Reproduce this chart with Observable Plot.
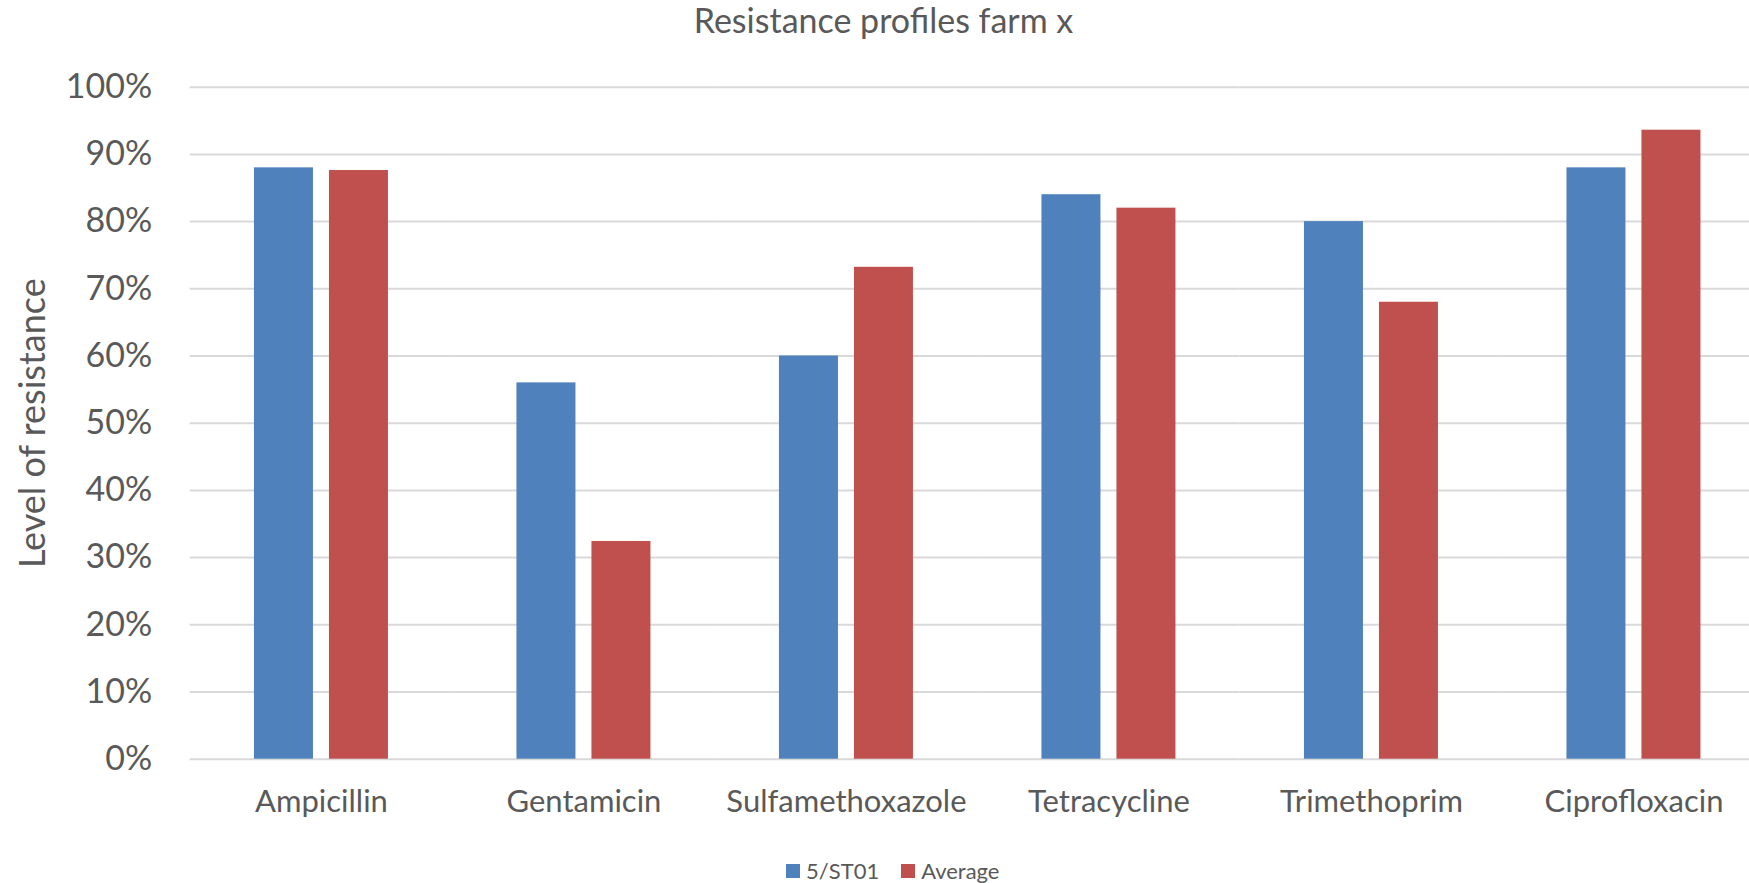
<!DOCTYPE html>
<html>
<head>
<meta charset="utf-8">
<script src="https://cdn.jsdelivr.net/npm/d3@7"></script>
<script src="https://cdn.jsdelivr.net/npm/@observablehq/plot@0.6"></script>
<style>
  html, body { margin: 0; padding: 0; background: #fff; overflow: hidden; }
  #wrap { width: 1749px; height: 883px; position: relative; overflow: hidden; font-family: Lato, sans-serif; color: #595959; }
  #title { height: 50px; line-height: 40px; font-size: 34px; text-align: center; width: 1749px; padding-left: 18px; box-sizing: border-box; white-space: nowrap; }
  #legend { position: absolute; left: 786px; top: 859px; height: 24px; line-height: 24px; display: flex; align-items: center; font-size: 22px; white-space: nowrap; }
  #legend .item { display: flex; align-items: center; margin-right: 22px; height: 24px; }
  #legend .sw { width: 14px; height: 14px; margin-right: 6px; }
</style>
</head>
<body>
<div id="wrap">
  <div id="title"></div>
  <div id="chart"></div>
  <div id="legend"></div>
</div>
<script>
const title = "Resistance profiles farm x";
const yLabel = "Level of resistance";
const categories = ["Ampicillin", "Gentamicin", "Sulfamethoxazole", "Tetracycline", "Trimethoprim", "Ciprofloxacin"];
const series = ["5/ST01", "Average"];
const valuesST01 = [88, 56, 60, 84, 80, 88];
const valuesAverage = [87.6, 32.4, 73.2, 82, 68, 93.6];
const yTicks = [0, 10, 20, 30, 40, 50, 60, 70, 80, 90, 100];
const colors = ["#4F81BD", "#C0504D"];

const rows = [];
categories.forEach((c, i) => {
  rows.push({category: c, series: series[0], value: valuesST01[i]});
  rows.push({category: c, series: series[1], value: valuesAverage[i]});
});

document.getElementById("title").textContent = title;

const chart = Plot.plot({
  width: 1749,
  height: 790,
  marginTop: 36.7,
  marginBottom: 81.3,
  marginLeft: 189.7,
  marginRight: 0,
  style: {fontFamily: "Lato, sans-serif", fontSize: "31px", color: "#595959", background: "#fff", overflow: "hidden"},
  facet: {data: rows, x: "category"},
  fx: {domain: categories, range: [189.7, 1764.7], padding: 0, round: false, axis: "bottom", tickSize: 0, tickPadding: 31, label: null},
  x: {domain: series, paddingInner: 0.2133, paddingOuter: 0.8567, round: false, axis: null},
  y: {domain: [0, 100], ticks: yTicks, tickFormat: d => d + "%", tickSize: 0, tickPadding: 38,
      label: yLabel, labelAnchor: "center", labelOffset: 171},
  color: {domain: series, range: colors},
  marks: [
    Plot.ruleY(yTicks, {stroke: "#d9d9d9", strokeWidth: 2}),
    Plot.barY(rows, {x: "series", y: "value", fill: "series"})
  ]
});
document.getElementById("chart").appendChild(chart);

// font sizes for the y axis, and drop the arrow from the label
d3.select(chart).selectAll('g[aria-label^="y-axis"] text').each(function() {
  const t = d3.select(this);
  const plain = t.text().replace(/[↑↓→←]/g, "").trim();
  if (plain === yLabel) {
    t.text(yLabel).style("font-size", "36px");
  } else {
    t.style("font-size", "34px");
  }
});

const legend = d3.select("#legend");
series.forEach((s, i) => {
  const item = legend.append("div").attr("class", "item");
  item.append("div").attr("class", "sw").style("background", colors[i]);
  item.append("span").text(s);
});
</script>
</body>
</html>
